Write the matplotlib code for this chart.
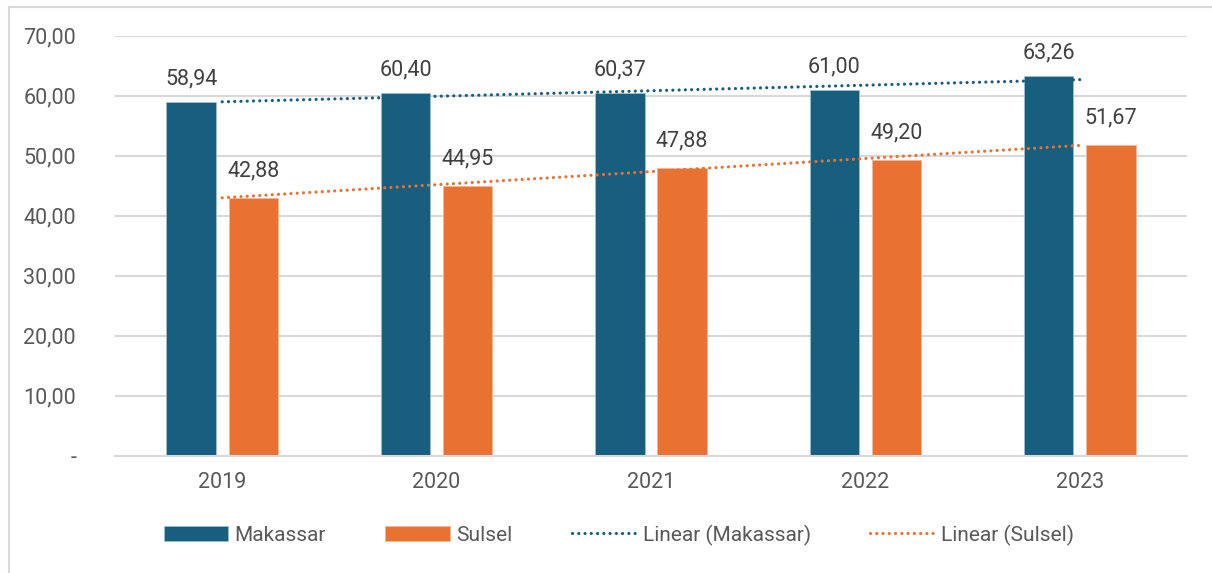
import numpy as np
import matplotlib.pyplot as plt
from matplotlib.lines import Line2D
from matplotlib.ticker import FuncFormatter

years = ["2019", "2020", "2021", "2022", "2023"]
makassar = [58.94, 60.40, 60.37, 61.00, 63.26]
sulsel = [42.88, 44.95, 47.88, 49.20, 51.67]

blue = "#175E7F"
orange = "#E97132"
grey_txt = "#595959"
label_txt = "#404040"

plt.rcParams['font.family'] = ['Roboto', 'DejaVu Sans']

W, H = 1212, 573
fig = plt.figure(figsize=(W / 100, H / 100), dpi=100)
ax = fig.add_axes([115 / W, 1 - 455.5 / H, (1187 - 115) / W, (455.5 - 35.5) / H])

x = np.arange(len(years))
bw = 0.23
off = 0.145
b1 = ax.bar(x - off, makassar, bw, color=blue, edgecolor="#9DBFD0", linewidth=0.6, zorder=2, label="Makassar")
b2 = ax.bar(x + off, sulsel, bw, color=orange, edgecolor="#F5B895", linewidth=0.6, zorder=2, label="Sulsel")

# linear trendlines (least squares over the categories)
trends = []
for vals, col, name in [(makassar, blue, "Linear (Makassar)"), (sulsel, orange, "Linear (Sulsel)")]:
    k, c = np.polyfit(x, vals, 1)
    ln, = ax.plot(x, k * x + c, linestyle=(0, (0.01, 1.95)), color=col, linewidth=2.3,
                  dash_capstyle="round", zorder=3, label=name)
    trends.append(ln)

def fmt(v):
    return f"{v:.2f}".replace(".", ",")

fs = 15.5
for rect, v in zip(b1, makassar):
    ax.annotate(fmt(v), (rect.get_x() + rect.get_width() / 2, v), xytext=(0, 9),
                textcoords="offset points", ha="center", va="bottom", fontsize=fs, color=label_txt, zorder=4)
for rect, v in zip(b2, sulsel):
    ax.annotate(fmt(v), (rect.get_x() + rect.get_width() / 2, v), xytext=(0, 12),
                textcoords="offset points", ha="center", va="bottom", fontsize=fs, color=label_txt, zorder=4)

ax.set_ylim(0, 70)
ax.set_xlim(-0.5, len(years) - 0.5)
ax.set_yticks(np.arange(0, 71, 10))
ax.yaxis.set_major_formatter(FuncFormatter(lambda v, p: "-" if v == 0 else fmt(v)))
ax.set_xticks(x)
ax.set_xticklabels(years)
ax.tick_params(axis="both", length=0, labelsize=fs, colors=grey_txt)
ax.tick_params(axis="y", pad=28)
ax.tick_params(axis="x", pad=12)
ax.grid(axis="y", color="#D9D9D9", linewidth=1.5, zorder=0)
ax.set_axisbelow(True)
for s in ["top", "right", "left"]:
    ax.spines[s].set_visible(False)
ax.spines["bottom"].set_color("#D9D9D9")
ax.spines["bottom"].set_linewidth(1.5)

handles = [b1, b2] + trends
labels = ["Makassar", "Sulsel", "Linear (Makassar)", "Linear (Sulsel)"]
leg = fig.legend(handles, labels, loc="center", bbox_to_anchor=(619 / W, 1 - 535 / H), ncol=4, frameon=False,
                 fontsize=15, handlelength=3.1, handleheight=0.75, handletextpad=0.3,
                 columnspacing=2.85, labelcolor=grey_txt)

# chart area border (clipped like the reference screenshot)
fig.add_artist(Line2D([9 / W, 1], [1 - 7 / H, 1 - 7 / H], transform=fig.transFigure, color="#D9D9D9", linewidth=1.5))
fig.add_artist(Line2D([9 / W, 9 / W], [0, 1 - 7 / H], transform=fig.transFigure, color="#D9D9D9", linewidth=1.5))

fig.savefig("out.png", dpi=100)
